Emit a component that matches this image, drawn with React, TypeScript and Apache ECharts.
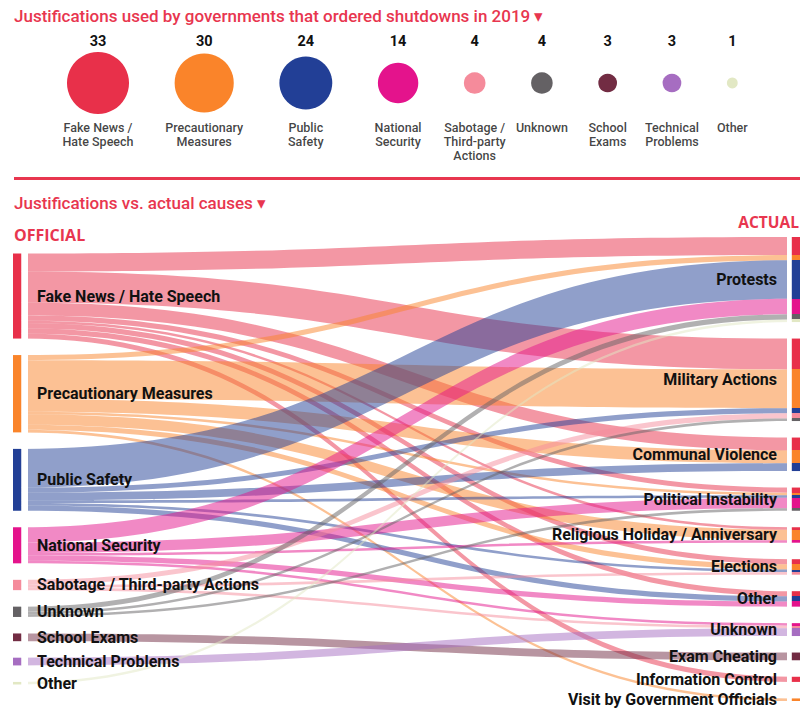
import React, { useEffect, useRef } from 'react';
import * as echarts from 'echarts';

// ---------- DATA ----------
const justifications = [
  'Fake News / Hate Speech',
  'Precautionary Measures',
  'Public Safety',
  'National Security',
  'Sabotage / Third-party Actions',
  'Unknown',
  'School Exams',
  'Technical Problems',
  'Other',
];
const bubbleLabels = [
  'Fake News /\nHate Speech',
  'Precautionary\nMeasures',
  'Public\nSafety',
  'National\nSecurity',
  'Sabotage /\nThird-party\nActions',
  'Unknown',
  'School\nExams',
  'Technical\nProblems',
  'Other',
];
const justificationCounts = [33, 30, 24, 14, 4, 4, 3, 3, 1];
const justificationColors = [
  '#e8304a', '#fa842a', '#223f96', '#e4138c', '#f58b9b',
  '#646164', '#722c43', '#a66dc1', '#e2e8c4',
];
const actualCauses = [
  'Protests',
  'Military Actions',
  'Communal Violence',
  'Political Instability',
  'Religious Holiday / Anniversary',
  'Elections',
  'Other',
  'Unknown',
  'Exam Cheating',
  'Information Control',
  'Visit by Government Officials',
];
// shutdowns per actual cause (same order as actualCauses), one array per justification
const flowFakeNews = [7, 12, 5, 2, 1, 2, 2, 0, 0, 2, 0];
const flowPrecautionary = [2, 15, 5, 1, 4, 2, 0, 0, 0, 0, 1];
const flowPublicSafety = [15, 2, 3, 1, 0, 1, 2, 0, 0, 0, 0];
const flowNationalSecurity = [6, 0, 0, 4, 1, 0, 2, 1, 0, 0, 0];
const flowSabotage = [0, 2, 0, 0, 0, 1, 0, 1, 0, 0, 0];
const flowUnknown = [2, 1, 0, 1, 0, 0, 0, 0, 0, 0, 0];
const flowSchoolExams = [0, 0, 0, 0, 0, 0, 0, 0, 3, 0, 0];
const flowTechnical = [0, 0, 0, 0, 0, 0, 0, 3, 0, 0, 0];
const flowOther = [1, 0, 0, 0, 0, 0, 0, 0, 0, 0, 0];

const flows = [
  flowFakeNews, flowPrecautionary, flowPublicSafety, flowNationalSecurity,
  flowSabotage, flowUnknown, flowSchoolExams, flowTechnical, flowOther,
];

const RED = '#e8364f';
const FONT = 'Roboto';
const HEAD_FONT = 'Open Sans';

export default function App() {
  const ref = useRef<HTMLDivElement>(null);

  useEffect(() => {
    if (!ref.current) return;
    const chart = echarts.init(ref.current, null, { renderer: 'svg' });

    // bubble layout (sizes ~ sqrt of value, packed with a constant gap)
    const bubbleScale = 10.8;
    const bubbleGap = 45.6;
    const firstCenter = 98;
    const diam = justificationCounts.map((v) => Math.sqrt(v) * bubbleScale);
    const centers: number[] = [];
    diam.forEach((d, i) => {
      centers.push(i === 0 ? firstCenter : centers[i - 1] + (diam[i - 1] + d) / 2 + bubbleGap);
    });

    // sankey nodes
    const labelBase = { fontFamily: FONT, fontSize: 16, fontWeight: 700, color: '#111' };
    const nodes: any[] = [
      { name: 'L:', value: 0, itemStyle: { opacity: 0 }, label: { show: false } },
    ];
    justifications.forEach((n, i) => {
      nodes.push({
        name: 'L:' + n,
        itemStyle: { color: justificationColors[i] },
        label: { ...labelBase, position: 'right', distance: 16 },
      });
    });
    actualCauses.forEach((n, j) => {
      const total = flows.reduce((s, f) => s + f[j], 0);
      const stops: any[] = [];
      let acc = 0;
      flows.forEach((f, i) => {
        if (f[j] > 0) {
          const a = acc / total;
          acc += f[j];
          const b = acc / total;
          stops.push({ offset: a, color: justificationColors[i] });
          stops.push({ offset: b, color: justificationColors[i] });
        }
      });
      nodes.push({
        name: 'R:' + n,
        itemStyle: {
          color: new echarts.graphic.LinearGradient(0, 0, 0, 1, stops),
        },
        label: { ...labelBase, position: 'left', distance: 15 },
      });
    });
    const links: any[] = [];
    flows.forEach((f, i) => {
      f.forEach((v, j) => {
        if (v > 0) links.push({ source: 'L:' + justifications[i], target: 'R:' + actualCauses[j], value: v });
      });
    });

    const option: any = {
      animation: false,
      grid: { left: 0, right: 0, top: 52, height: 62 },
      xAxis: { type: 'value', min: 0, max: 809, show: false },
      yAxis: { type: 'category', data: ['2019'], show: false },
      graphic: [
        {
          type: 'text', x: 14, y: 16, z: 100,
          style: {
            text: 'Justifications used by governments that ordered shutdowns in 2019 \u25BE',
            fill: RED, fontFamily: FONT, fontSize: 17, fontWeight: 500, verticalAlign: 'middle',
          },
        },
        { type: 'rect', z: 100, shape: { x: 14, y: 177, width: 786, height: 3 }, style: { fill: RED } },
        {
          type: 'text', x: 14, y: 203, z: 100,
          style: {
            text: 'Justifications vs. actual causes \u25BE',
            fill: RED, fontFamily: FONT, fontSize: 17, fontWeight: 500, verticalAlign: 'middle',
          },
        },
        {
          type: 'text', x: 14, y: 235, z: 100,
          style: { text: 'OFFICIAL', fill: RED, fontFamily: HEAD_FONT, fontSize: 16, fontWeight: 700, verticalAlign: 'middle' },
        },
        {
          type: 'text', x: 799, y: 222, z: 100,
          style: { text: 'ACTUAL', fill: RED, fontFamily: HEAD_FONT, fontSize: 15.5, fontWeight: 700, verticalAlign: 'middle', align: 'right' },
        },
        { type: 'rect', z: 100, silent: true, shape: { x: 21.5, y: 248, width: 6.5, height: 460 }, style: { fill: '#fff' } },
        { type: 'rect', z: 100, silent: true, shape: { x: 787, y: 233, width: 4.6, height: 475 }, style: { fill: '#fff' } },
      ],
      series: [
        {
          type: 'scatter',
          silent: true,
          data: justificationCounts.map((v, i) => ({
            value: [centers[i], 0],
            symbolSize: diam[i],
            itemStyle: { color: justificationColors[i], opacity: 1 },
          })),
          label: {
            show: true,
            position: 'inside',
            offset: [0, -42],
            formatter: (p: any) => String(justificationCounts[p.dataIndex]),
            fontFamily: FONT, fontSize: 14.5, fontWeight: 700, color: '#111',
          },
        },
        {
          type: 'scatter',
          silent: true,
          symbolSize: 1,
          itemStyle: { color: 'rgba(0,0,0,0)' },
          data: centers.map((c) => [c, 0]),
          label: {
            show: true,
            position: 'inside',
            offset: [0, 37],
            align: 'center',
            verticalAlign: 'top',
            lineHeight: 14,
            formatter: (p: any) => bubbleLabels[p.dataIndex],
            fontFamily: FONT, fontSize: 12.5, fontWeight: 500, color: '#111',
          },
        },
        {
          type: 'sankey',
          left: 13, right: 9, top: 237, bottom: 15,
          nodeWidth: 8,
          nodeGap: 16.5,
          layoutIterations: 0,
          nodeAlign: 'left',
          draggable: false,
          silent: true,
          emphasis: { disabled: true },
          data: nodes,
          links,
          label: { ...labelBase, formatter: (p: any) => String(p.name).replace(/^[LR]:/, '') },
          lineStyle: { color: 'source', opacity: 0.5, curveness: 0.5 },
        },
      ],
    };
    chart.setOption(option);
    return () => chart.dispose();
  }, []);

  return (
    <div
      ref={ref}
      style={{ position: 'fixed', left: 0, top: 0, width: 809, height: 716, background: '#fff' }}
    />
  );
}
